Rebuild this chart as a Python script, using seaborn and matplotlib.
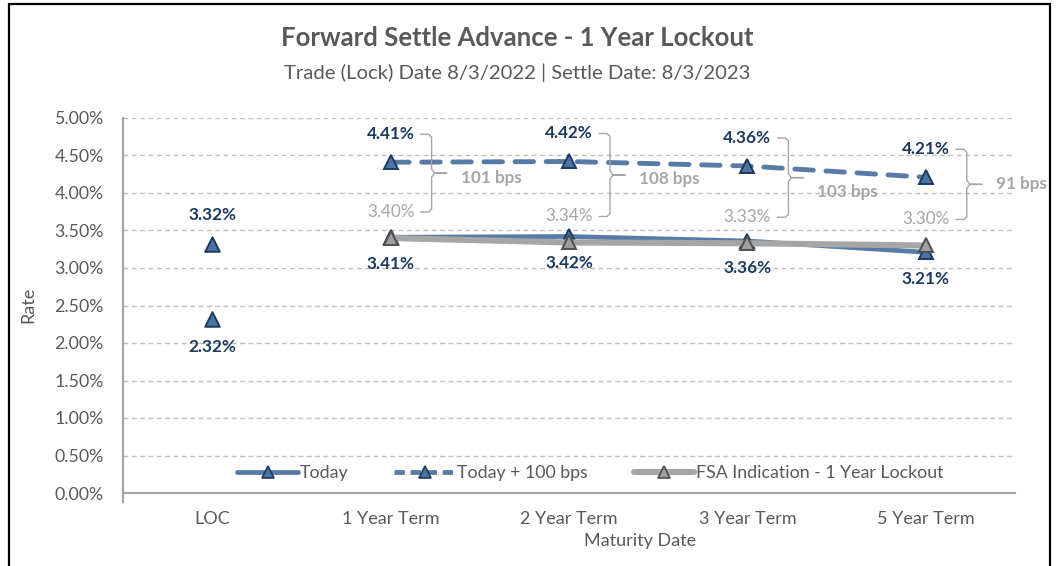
import numpy as np
import pandas as pd
import matplotlib
matplotlib.use("Agg")
import matplotlib.pyplot as plt
import seaborn as sns
from matplotlib.ticker import FixedLocator, FuncFormatter
from matplotlib.lines import Line2D
from matplotlib.patches import Rectangle

# ---------------- data ----------------
categories = ["LOC", "1 Year Term", "2 Year Term", "3 Year Term", "5 Year Term"]
loc_today = 2.32
loc_plus100 = 3.32
today = [3.41, 3.42, 3.36, 3.21]
today_plus100 = [4.41, 4.42, 4.36, 4.21]
fsa = [3.40, 3.34, 3.33, 3.30]
y_ticks = [0.0, 0.5, 1.0, 1.5, 2.0, 2.5, 3.0, 3.5, 4.0, 4.5, 5.0]
series_names = ["Today", "Today + 100 bps", "FSA Indication - 1 Year Lockout"]
title = "Forward Settle Advance - 1 Year Lockout"
subtitle = "Trade (Lock) Date 8/3/2022 | Settle Date: 8/3/2023"

# ---------------- style ----------------
sns.set_theme(style="white")
plt.rcParams['font.family'] = ['Lato', 'DejaVu Sans']

NAVY = "#1B3A5E"
BLUE = "#587BA5"
BLUE_FILL = "#4C74A2"
GRAY_LINE = "#A6A6A6"
GRAY_FILL = "#9E9E9E"
GRAY_EDGE = "#4F4F4F"
TXT = "#595959"
LBL_GRAY = "#A6A6A6"

fig = plt.figure(figsize=(10.58, 5.66), dpi=100)
fig.patch.set_facecolor("white")
ax = fig.add_axes([123 / 1058, 1 - 493 / 566, 892 / 1058, 375 / 566])

term_pos = np.arange(1, len(categories))
df = pd.DataFrame({"pos": np.tile(term_pos, 3),
                   "Rate": today + today_plus100 + fsa,
                   "Series": np.repeat(series_names, len(term_pos))})

mk = dict(marker="^", markersize=10, markeredgewidth=1.4)
sns.lineplot(data=df[df.Series == series_names[0]], x="pos", y="Rate", ax=ax,
             color=BLUE, lw=3.4, markerfacecolor=BLUE_FILL, markeredgecolor=NAVY,
             legend=False, zorder=3, **mk)
sns.lineplot(data=df[df.Series == series_names[1]], x="pos", y="Rate", ax=ax,
             color=BLUE, lw=3.5, linestyle=(0, (3.8, 2.6)), dash_capstyle="round",
             markerfacecolor=BLUE_FILL, markeredgecolor=NAVY,
             legend=False, zorder=3, **mk)
sns.lineplot(data=df[df.Series == series_names[2]], x="pos", y="Rate", ax=ax,
             color=GRAY_LINE, lw=4.4, markerfacecolor=GRAY_FILL, markeredgecolor=GRAY_EDGE,
             legend=False, zorder=4, **mk)
sns.scatterplot(x=[0, 0], y=[loc_today, loc_plus100], ax=ax, marker="^", s=110,
                color=BLUE_FILL, edgecolor=NAVY, linewidth=1.4, zorder=3, legend=False)

ax.set_xlim(-0.5, len(categories) - 0.5)
ax.set_ylim(0, 5)

# grid & spines
ax.yaxis.set_major_locator(FixedLocator(y_ticks))
ax.yaxis.set_major_formatter(FuncFormatter(lambda v, p: f"{v:.2f}%"))
for yv in y_ticks[1:]:
    ax.axhline(yv, color="#BFBFBF", lw=1.0, ls=(0, (3.5, 2.5)), zorder=0)
for s in ["top", "right"]:
    ax.spines[s].set_visible(False)
for s in ["left", "bottom"]:
    ax.spines[s].set_color("#A6A6A6")
    ax.spines[s].set_linewidth(1.6)
ax.spines["left"].set_bounds(-0.12, 5)

ax.set_xticks(range(len(categories)))
ax.set_xticklabels(categories)
ax.set_xticks(np.arange(-0.5, len(categories)), minor=True)
ax.tick_params(axis="x", which="major", length=0, pad=13, labelsize=13, labelcolor=TXT)
ax.tick_params(axis="x", which="minor", length=7, width=1.4, color="#A6A6A6", direction="out")
ax.tick_params(axis="y", length=0, pad=14, labelsize=12.8, labelcolor=TXT)
ax.set_xlabel("")
ax.set_ylabel("")
fig.text(28 / 1058, 1 - 305 / 566, "Rate", rotation=90, ha="center", va="center",
         fontsize=13, color=TXT)
fig.text(640 / 1058, 1 - 541 / 566, "Maturity Date", ha="center", va="center",
         fontsize=13, color=TXT)

# titles
fig.text(517 / 1058, 1 - 38 / 566, title, ha="center", va="center",
         fontsize=18.5, fontweight="bold", color=TXT)
fig.text(517 / 1058, 1 - 73 / 566, subtitle, ha="center", va="center",
         fontsize=14.6, color=TXT)

# data labels
OFF = 27
def lab(x, y, text, dy, color=NAVY, weight="bold"):
    ax.annotate(text, (x, y), xytext=(0, dy), textcoords="offset pixels",
                ha="center", va="center", fontsize=12.3, fontweight=weight,
                color=color, zorder=6)

lab(0, loc_plus100, f"{loc_plus100:.2f}%", OFF + 2)
lab(0, loc_today, f"{loc_today:.2f}%", -OFF - 1)
for x, t, p, f in zip(term_pos, today, today_plus100, fsa):
    lab(x, t, f"{t:.2f}%", -OFF)
    lab(x, p, f"{p:.2f}%", OFF + 1)
    lab(x, f, f"{f:.2f}%", OFF - 1, color=LBL_GRAY, weight="normal")

# brackets between "Today + 100 bps" and FSA labels
pxx = ax.bbox.width / (len(categories))
pxy = ax.bbox.height / 5.0
bps_dy = [-5, -4, -14, 0]
for x, p, f, d in zip(term_pos, today_plus100, fsa, bps_dy):
    top = p + (OFF + 1) / pxy
    bot = f + (OFF - 1) / pxy
    mid = (top + bot) / 2
    pts_px = [(30, top), (38, top), (41, top - 3 / pxy), (41, mid + 4 / pxy), (44, mid),
              (56, mid), (44, mid), (41, mid - 4 / pxy), (41, bot + 3 / pxy), (38, bot), (30, bot)]
    xs = [x + a / pxx for a, _ in pts_px]
    ys = [b for _, b in pts_px]
    ax.plot(xs, ys, color="#A6A6A6", lw=1.0, zorder=5, clip_on=False)
    bps = round((p - f) * 100)
    ax.text(x + 70 / pxx, mid + d / pxy, f"{bps} bps", ha="left", va="center",
            fontsize=12.3, fontweight="bold", color=LBL_GRAY, zorder=6, clip_on=False)

# legend
handles = [
    Line2D([], [], color=BLUE, lw=3.4, marker="^", markersize=9, markerfacecolor=BLUE_FILL,
           markeredgecolor=NAVY, markeredgewidth=1.2),
    Line2D([], [], color=BLUE, lw=3.4, ls=(0, (2.2, 1.2)), marker="^", markersize=9,
           markerfacecolor=BLUE_FILL, markeredgecolor=NAVY, markeredgewidth=1.2),
    Line2D([], [], color=GRAY_LINE, lw=4.4, marker="^", markersize=9, markerfacecolor=GRAY_FILL,
           markeredgecolor=GRAY_EDGE, markeredgewidth=1.2),
]
leg = ax.legend(handles, series_names, loc="center", bbox_to_anchor=(0.524, 20 / 375),
                ncol=3, frameon=False, fontsize=12.8, handlelength=3.4, handletextpad=0.1,
                columnspacing=2.6, numpoints=1)
for t in leg.get_texts():
    t.set_color(TXT)

# outer frame
fig.patches.append(Rectangle((9 / 1058, -0.05), (1050 - 9) / 1058, 1.05 - 4 / 566,
                             transform=fig.transFigure, fill=False, edgecolor="black",
                             lw=1.6, zorder=10))

fig.savefig("out.png", dpi=100, facecolor="white")
